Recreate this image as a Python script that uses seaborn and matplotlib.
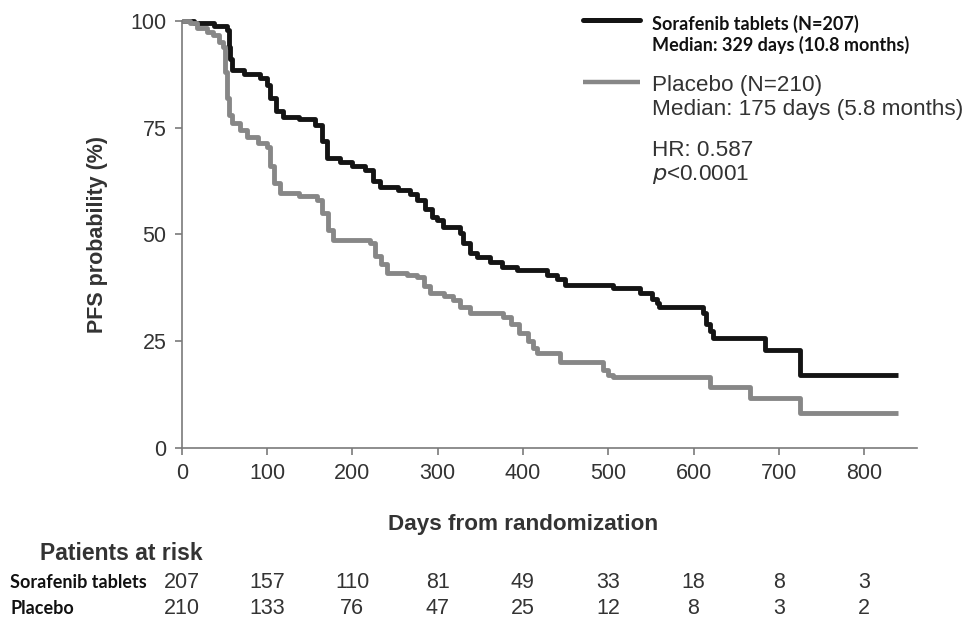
import pandas as pd
import matplotlib
matplotlib.use("Agg")
import matplotlib.pyplot as plt
import seaborn as sns
from matplotlib.lines import Line2D

# ==========================================
# DATA
# ==========================================
sora_days = [0, 15, 38, 53, 55, 57, 59, 73, 92, 100, 104, 110, 119, 137, 156, 164, 170,
             186, 200, 215, 224, 233, 254, 268, 276, 285, 293, 299, 306, 326, 330, 338,
             346, 361, 376, 393, 428, 440, 449, 506, 537, 551, 557, 560, 611, 615, 619,
             623, 684, 725, 840]
sora_pfs = [100, 99.6, 98.8, 97.9, 94, 91, 88.5, 87.5, 86.6, 85, 82, 79, 77.5, 77, 75.6, 72, 68,
            67, 66, 65, 62.5, 61.1, 60.5, 59.5, 58, 56, 54, 53.4, 51.8, 50.4, 48, 45.7,
            44.7, 43.5, 42.5, 41.7, 40.5, 39.5, 38.2, 37.5, 36.3, 35, 34, 33, 31.6, 29, 27.5,
            25.8, 23, 17.1, 17.1]

plac_days = [0, 10, 18, 30, 37, 44, 48, 51, 53, 55, 59, 68, 77, 90, 100, 104, 108, 115, 137,
             159, 165, 171, 177, 221, 227, 234, 241, 264, 276, 284, 291, 308, 318, 326, 338,
             377, 386, 396, 406, 412, 417, 443, 494, 500, 506, 619, 666, 725, 840]
plac_pfs = [100, 99.5, 98.3, 97.5, 96.7, 95, 94, 88, 82, 78, 76, 74.5, 72.8, 71.5, 70.5, 66, 62, 59.7, 59,
            58, 55, 51, 48.7, 48, 45, 43, 41, 40.5, 40, 38, 36.3, 35.5, 34.7, 33, 31.6,
            30.7, 29, 27, 25, 23.5, 22.2, 20.1, 18.3, 17.2, 16.6, 14.3, 11.7, 8.2, 8.2]

risk_days = [0, 100, 200, 300, 400, 500, 600, 700, 800]
risk_sora = [207, 157, 110, 81, 49, 33, 18, 8, 3]
risk_plac = [210, 133, 76, 47, 25, 12, 8, 3, 2]

arms = ["Sorafenib tablets", "Placebo"]
arm_colors = {"Sorafenib tablets": "#141414", "Placebo": "#878787"}

df = pd.concat([
    pd.DataFrame({"days": sora_days, "pfs": sora_pfs, "arm": arms[0]}),
    pd.DataFrame({"days": plac_days, "pfs": plac_pfs, "arm": arms[1]}),
])

# ==========================================
# STYLE
# ==========================================
sns.set_theme(style="ticks")
plt.rcParams["font.family"] = ["Liberation Sans", "DejaVu Sans"]
TXT = "#333333"
AXC = "#7a7a7a"

W, H = 966, 619
fig = plt.figure(figsize=(W / 100, H / 100), dpi=100)
ax = fig.add_axes([181.7 / W, (H - 448) / H, (917 - 181.7) / W, (448 - 21) / H])

sns.lineplot(data=df, x="days", y="pfs", hue="arm", palette=arm_colors,
             estimator=None, drawstyle="steps-post", linewidth=3.5,
             legend=False, ax=ax, clip_on=False)
for ln in ax.lines:
    ln.set_solid_capstyle("butt")

ax.set_xlim(0, 862)
ax.set_ylim(0, 100)
ax.set_xticks(risk_days)
ax.set_yticks([0, 25, 50, 75, 100])
sns.despine(ax=ax)
for s in ["left", "bottom"]:
    ax.spines[s].set_color(AXC)
    ax.spines[s].set_linewidth(1.2)
ax.tick_params(colors=AXC, labelcolor=TXT, labelsize=15.5, length=5, width=1.2, pad=6)
ax.set_xlabel("Days from randomization", fontsize=16.2, fontweight="bold",
              color=TXT, labelpad=20)
ax.xaxis.set_label_coords((523 - 181.7) / (917 - 181.7), -0.155)
ax.set_ylabel("PFS probability (%)", fontsize=15.5, fontweight="bold",
              color=TXT, labelpad=16)


def fx(px):
    return px / W


def fy(py):
    return 1 - py / H


# legend block (top right)
CAL = ["Lato", "DejaVu Sans"]
fig.add_artist(Line2D([fx(583), fx(640)], [fy(20), fy(20)], color=arm_colors[arms[0]],
                      linewidth=3.6, solid_capstyle="round"))
fig.text(fx(652), fy(24), "Sorafenib tablets (N=207)", family=CAL, fontweight="bold",
         fontsize=13, color="#111111", va="center")
fig.text(fx(652), fy(45), "Median: 329 days (10.8 months)", family=CAL, fontweight="bold",
         fontsize=13, color="#111111", va="center")
fig.add_artist(Line2D([fx(583), fx(640)], [fy(82), fy(82)], color=arm_colors[arms[1]],
                      linewidth=3.2, solid_capstyle="butt"))
fig.text(fx(652), fy(85), "Placebo (N=210)", fontsize=16.2, color=TXT, va="center")
fig.text(fx(652), fy(109), "Median: 175 days (5.8 months)", fontsize=16.2, color=TXT, va="center")
fig.text(fx(652), fy(150), "HR: 0.587", fontsize=16.2, color=TXT, va="center")
fig.text(fx(652), fy(174), "$\\mathit{p}$<0.0001", fontsize=16.2, color=TXT, va="center")

# patients at risk table
fig.text(fx(40), fy(554), "Patients at risk", fontsize=16.5, fontweight="bold",
         color=TXT, va="center")
fig.text(fx(10), fy(583), "Sorafenib tablets", family=CAL, fontweight="bold",
         fontsize=13, color="#111111", va="center")
fig.text(fx(10), fy(608), "Placebo", family=CAL, fontweight="bold",
         fontsize=13, color="#111111", va="center")
trans = matplotlib.transforms.blended_transform_factory(ax.transData, fig.transFigure)
for d, a, b in zip(risk_days, risk_sora, risk_plac):
    fig.text(d, fy(583), str(a), transform=trans, ha="center", va="center",
             fontsize=15.5, color=TXT)
    fig.text(d, fy(608), str(b), transform=trans, ha="center", va="center",
             fontsize=15.5, color=TXT)

fig.savefig("out.png", dpi=100)
